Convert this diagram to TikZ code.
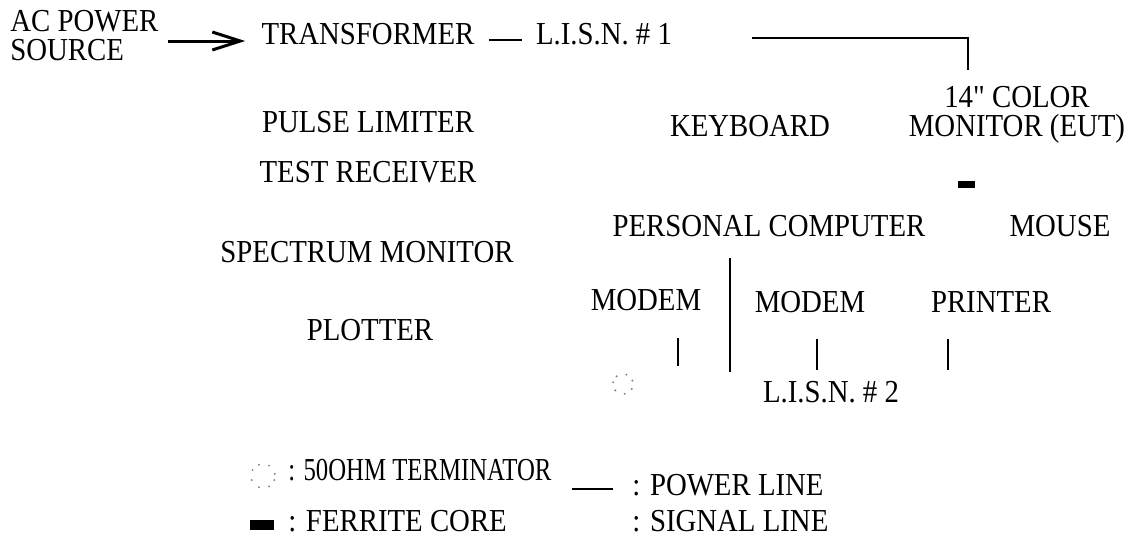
\documentclass[tikz,border=0pt]{standalone}
\usepackage{fontspec}
\usepackage{graphicx}
\setmainfont{Liberation Serif}[Ligatures=TeXOff, FakeStretch=0.9]
\usetikzlibrary{positioning,arrows.meta}

\begin{document}
\begin{tikzpicture}[x=0.5pt, y=-0.5pt, >={Straight Barb[length=14pt,width=9pt,line width=1.5pt]},
  every node/.style={font=\fontsize{16}{14.5}\selectfont, inner sep=0pt},
  pwr/.style={line width=1.3pt},
  sig/.style={line width=1.2pt},
  core/.style={fill=black, minimum width=8.5pt, minimum height=3.5pt},
  dotted term/.style={minimum size=12pt}]
\useasboundingbox (0,0) rectangle (1147,536);
% supply chain
\node[align=left, anchor=west] (ac) at (10,36) {AC POWER\\SOURCE};
\node (trafo) at (368,34) {TRANSFORMER};
\node (lisnA) at (604,34) {L.I.S.N. \# 1};
\coordinate (arrA) at (168,41);
\draw[pwr, line width=1.5pt, ->] (arrA) -- ([xshift=-8pt,yshift=-3.5pt]trafo.west);
\draw[pwr] ([xshift=7pt,yshift=-3pt]trafo.east) -- ([xshift=-7pt,yshift=-3pt]lisnA.west);
% equipment
\node[align=center] (mon) at (1017,115) {14" COLOR\\MONITOR (EUT)};
\node (kbd) at (750,126) {KEYBOARD};
\node (pulse) at (368,122) {PULSE LIMITER};
\node (recv) at (368,172) {TEST RECEIVER};
\node[core] (ferr) at (966,184) {};
\node (pc) at (769,226) {PERSONAL COMPUTER};
\node (mouse) at (1060,226) {MOUSE};
\node (spec) at (367,252) {SPECTRUM MONITOR};
\node (modA) at (646,300) {MODEM};
\node (modB) at (810,302) {MODEM};
\node (prn) at (991,302) {PRINTER};
\node (plot) at (370,330) {PLOTTER};
\node[dotted term] (termA) at (623,384) {};
\node (lisnB) at (831,392) {L.I.S.N. \# 2};
\foreach \a in {20,70,130,170,220,280,330}
  \fill[gray] (termA.center) ++(\a:5pt) circle (0.55pt);
% lines
\coordinate (pA) at (752,38);
\coordinate (cA) at (968,38);
\draw[pwr] (pA) -- (cA) -- ([yshift=8pt]mon.north -| cA);
\coordinate (vA) at (730,258);
\coordinate (vB) at (730,372);
\draw[sig] (vA) -- (vB);
\draw[sig] (678,338) -- (678,366);
\draw[sig] (817,339) -- (817,370);
\draw[sig] (948,339) -- (948,370);
% legend
\node[dotted term] (termL) at (263,476) {};
\foreach \a in {10,60,110,150,200,250,300,340}
  \fill[gray] (termL.center) ++(\a:6pt) circle (0.55pt);
\node[anchor=west] (tlab) at (288,470) {\scalebox{0.86}[1]{: 50OHM TERMINATOR}};
\node[core, minimum width=12pt, minimum height=5pt] (ferrL) at (262,525) {};
\node[anchor=west] (flab) at (288,521) {: FERRITE CORE};
\node[anchor=west] (plab) at (632,485) {: POWER LINE};
\draw[pwr] (572,489) -- (613,489);
\node[anchor=west] (slab) at (632,521) {: SIGNAL LINE};
\end{tikzpicture}
\end{document}
